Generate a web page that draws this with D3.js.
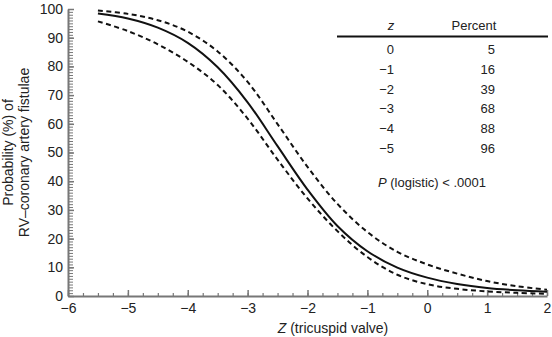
<!DOCTYPE html>
<html>
<head>
<meta charset="utf-8">
<script src="https://cdn.jsdelivr.net/npm/d3@7"></script>
<style>
  html, body { margin: 0; padding: 0; background: #fff; }
  svg { display: block; font-family: "Liberation Sans", Arial, Helvetica, sans-serif; }
</style>
</head>
<body>
<svg id="chart" width="552" height="337"></svg>
<script>
// Tricuspid valve Z score vs. probability of RV–coronary artery fistulae
const zValues   = [-5.5, -5, -4.5, -4, -3.5, -3, -2.5, -2, -1.5, -1, -0.5, 0, 0.5, 1, 1.5, 2];
const fitted    = [98.4, 96.7, 93.5, 88.2, 79.7, 67.5, 52.2, 37.1, 24.4, 15.6, 9.9, 6.4, 4.2, 2.8, 2.0, 1.5];
const upperCI   = [99.5, 98.3, 96.1, 92.1, 85.2, 74.6, 59.9, 45.0, 32.1, 22.3, 15.4, 11.0, 7.8, 5.2, 3.4, 2.2];
const lowerCI   = [95.7, 92.3, 87.7, 81.6, 73.5, 61.8, 47.5, 34.0, 22.6, 13.6, 7.4, 4.1, 2.5, 1.6, 1.1, 0.8];

// Observed percentages by z
const tableZ       = ["0", "\u22121", "\u22122", "\u22123", "\u22124", "\u22125"];
const tablePercent = [5, 16, 39, 68, 88, 96];

const xTicks = [-6, -5, -4, -3, -2, -1, 0, 1, 2];
const yTicks = [0, 10, 20, 30, 40, 50, 60, 70, 80, 90, 100];

const svg = d3.select("#chart");
const x = d3.scaleLinear().domain([-6, 2]).range([68, 547]);
const y = d3.scaleLinear().domain([0, 100]).range([296, 9]);
const axisColor = "#777";
const fmt = v => v < 0 ? "\u2212" + Math.abs(v) : String(v);

// y axis: minor ticks every 1%, majors every 10%
const yAxisG = svg.append("g").attr("transform", `translate(${x.range()[0]},0)`);
yAxisG.append("g")
  .call(d3.axisRight(y).tickValues(d3.range(0, 101, 1)).tickSize(5).tickFormat(""))
  .call(g => g.select(".domain").remove())
  .call(g => g.selectAll("line").attr("stroke", axisColor).attr("stroke-width", 1));
yAxisG.append("g")
  .call(d3.axisLeft(y).tickValues(yTicks).tickSize(0).tickPadding(5).tickFormat(fmt))
  .call(g => g.select(".domain").attr("stroke", axisColor).attr("stroke-width", 2))
  .call(g => g.selectAll("text").attr("font-size", 14).attr("fill", "#222")
    .attr("font-family", "Liberation Sans, Arial, sans-serif"));
yAxisG.append("g")
  .call(d3.axisRight(y).tickValues(yTicks).tickSize(6).tickFormat(""))
  .call(g => g.select(".domain").remove())
  .call(g => g.selectAll("line").attr("stroke", axisColor).attr("stroke-width", 1.5));

// x axis: minor ticks every 0.25, majors every 1
const xAxisG = svg.append("g").attr("transform", `translate(0,${y(0)})`);
xAxisG.append("g")
  .call(d3.axisTop(x).tickValues(d3.range(-6, 2.01, 0.25)).tickSize(3).tickFormat(""))
  .call(g => g.select(".domain").remove())
  .call(g => g.selectAll("line").attr("stroke", axisColor).attr("stroke-width", 1.2));
xAxisG.append("g")
  .call(d3.axisBottom(x).tickValues(xTicks).tickSize(0).tickPadding(7).tickFormat(fmt))
  .call(g => g.select(".domain").attr("stroke", axisColor).attr("stroke-width", 2))
  .call(g => g.selectAll("text").attr("font-size", 14).attr("fill", "#222")
    .attr("font-family", "Liberation Sans, Arial, sans-serif"));
xAxisG.append("g")
  .call(d3.axisTop(x).tickValues(xTicks).tickSize(6).tickFormat(""))
  .call(g => g.select(".domain").remove())
  .call(g => g.selectAll("line").attr("stroke", axisColor).attr("stroke-width", 1.5));

// fitted curve with confidence limits
const line = d3.line().x(d => x(d[0])).y(d => y(d[1])).curve(d3.curveCatmullRom.alpha(0.5));
const series = [
  { values: upperCI, dash: "5,3.5" },
  { values: lowerCI, dash: "5,3.5" },
  { values: fitted,  dash: null }
];
series.forEach(s => {
  svg.append("path")
    .datum(zValues.map((z, i) => [z, s.values[i]]))
    .attr("fill", "none")
    .attr("stroke", "#111")
    .attr("stroke-width", 2)
    .attr("stroke-dasharray", s.dash)
    .attr("d", line);
});

// axis titles
svg.append("text")
  .attr("x", 333).attr("y", 333)
  .attr("text-anchor", "middle").attr("font-size", 14).attr("fill", "#222")
  .call(t => {
    t.append("tspan").attr("font-style", "italic").text("Z");
    t.append("tspan").text(" (tricuspid valve)");
  });
const yTitle = svg.append("text")
  .attr("transform", `translate(0,${(y(0) + y(100)) / 2}) rotate(-90)`)
  .attr("text-anchor", "middle").attr("font-size", 14).attr("fill", "#222");
yTitle.append("tspan").attr("x", 0).attr("y", 13).text("Probability (%) of");
yTitle.append("tspan").attr("x", 0).attr("y", 29).text("RV\u2013coronary artery fistulae");

// observed data table
const tbl = svg.append("g").attr("font-size", 13).attr("fill", "#222");
tbl.append("text").attr("x", 391).attr("y", 30).attr("text-anchor", "middle")
  .attr("font-style", "italic").text("z");
tbl.append("text").attr("x", 474).attr("y", 30).attr("text-anchor", "middle").text("Percent");
tbl.append("line").attr("x1", 337).attr("x2", 548).attr("y1", 36.5).attr("y2", 36.5)
  .attr("stroke", "#111").attr("stroke-width", 2);
const rowY = d3.scaleLinear().domain([0, 5]).range([54, 153]);
tableZ.forEach((z, i) => {
  tbl.append("text").attr("x", 394).attr("y", rowY(i)).attr("text-anchor", "end").text(z);
  tbl.append("text").attr("x", 495).attr("y", rowY(i)).attr("text-anchor", "end").text(tablePercent[i]);
});
tbl.append("text").attr("x", 432).attr("y", 187).attr("text-anchor", "middle")
  .call(t => {
    t.append("tspan").attr("font-style", "italic").text("P");
    t.append("tspan").text(" (logistic) < .0001");
  });
</script>
</body>
</html>
